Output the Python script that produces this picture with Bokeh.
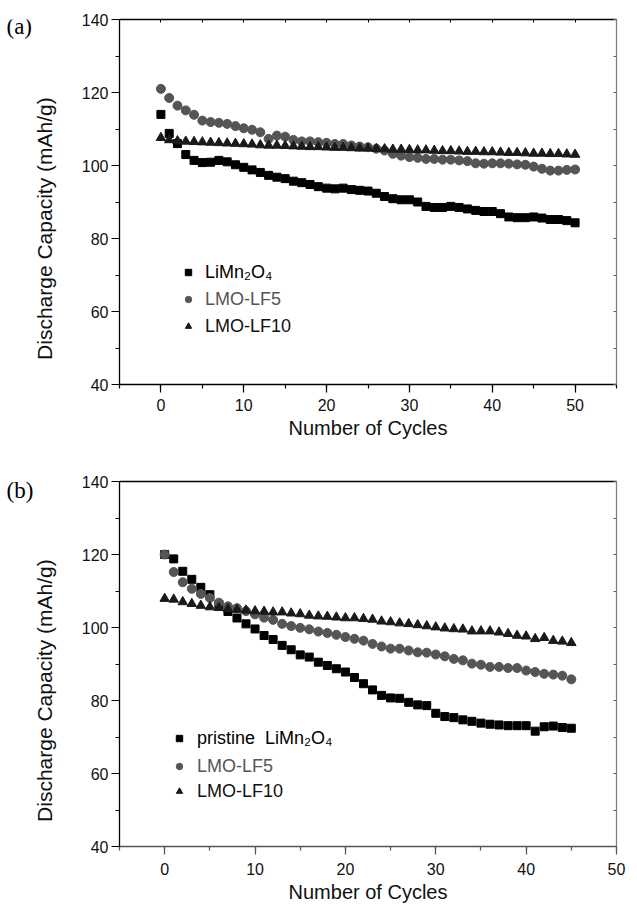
from bokeh.plotting import figure
from bokeh.layouts import column, row
from bokeh.models import (LinearAxis, SingleIntervalTicker, Range1d, Legend, LegendItem,
                          CustomLabelingPolicy)
from bokeh.core.properties import value
from bokeh.embed import file_html
from bokeh.resources import INLINE
import math

# ---------------- data (a) ----------------
cycles_a = list(range(51))
lmo_a = [114.0, 108.8, 106.0, 103.0, 101.4, 100.8, 100.9, 101.4, 101.0, 100.2,
         99.5, 98.8, 98.1, 97.3, 96.8, 96.4, 95.7, 95.3, 94.8, 94.2,
         93.8, 93.6, 93.8, 93.4, 93.2, 93.0, 92.4, 91.5, 90.9, 90.6,
         90.6, 90.0, 88.8, 88.5, 88.5, 88.8, 88.5, 88.1, 87.7, 87.4,
         87.4, 86.8, 85.9, 85.7, 85.7, 85.9, 85.6, 85.2, 85.2, 84.9, 84.3]
lf5_a = [121.0, 118.5, 116.4, 115.1, 113.9, 112.3, 111.9, 111.7, 111.4, 110.8,
         110.2, 109.8, 109.1, 107.3, 108.2, 107.9, 107.0, 106.6, 106.6, 106.4,
         106.2, 105.9, 105.9, 105.5, 105.2, 105.0, 104.6, 104.1, 103.2, 102.7,
         102.3, 102.1, 101.8, 101.8, 101.6, 101.6, 101.4, 101.2, 100.6, 100.5,
         100.6, 100.6, 100.5, 100.3, 100.2, 99.7, 99.1, 98.6, 98.6, 98.8, 98.9]
lf10_a = [107.6, 107.0, 106.7, 106.6, 106.5, 106.4, 106.3, 106.2, 106.1, 106.0,
          105.9, 105.8, 105.6, 105.5, 105.5, 105.4, 105.3, 105.2, 105.1, 105.1,
          105.0, 104.9, 104.9, 104.8, 104.7, 104.7, 104.6, 104.5, 104.4, 104.4,
          104.3, 104.2, 104.2, 104.1, 104.0, 104.0, 103.9, 103.8, 103.8, 103.7,
          103.7, 103.6, 103.5, 103.5, 103.4, 103.3, 103.3, 103.2, 103.2, 103.1, 103.0]

# ---------------- data (b) ----------------
cycles_b = list(range(46))
lmo_b = [120.0, 118.8, 115.4, 113.2, 111.0, 109.0, 106.3, 104.4, 102.6, 101.0,
         99.6, 97.8, 96.7, 95.1, 93.9, 92.5, 91.9, 90.5, 89.6, 88.7,
         87.8, 86.3, 84.6, 82.9, 81.4, 80.7, 80.6, 79.5, 78.8, 78.6,
         76.5, 75.6, 75.3, 74.7, 74.3, 73.8, 73.5, 73.3, 73.1, 73.1,
         73.1, 71.6, 72.8, 73.0, 72.6, 72.4]
lf5_b = [120.0, 115.2, 112.4, 110.6, 109.2, 108.1, 106.8, 105.8, 105.3, 104.5,
         103.6, 102.7, 102.1, 101.0, 100.4, 99.9, 99.5, 98.9, 98.5, 98.0,
         97.4, 96.9, 96.4, 95.5, 94.8, 94.2, 94.2, 93.7, 93.2, 93.1,
         92.6, 92.1, 91.4, 91.0, 90.1, 89.8, 89.2, 89.2, 88.9, 88.9,
         88.2, 87.8, 87.3, 87.1, 86.8, 85.8]
lf10_b = [107.9, 107.7, 107.0, 106.5, 106.0, 105.6, 105.4, 105.1, 104.9, 104.7,
          104.5, 104.4, 104.2, 104.2, 103.9, 103.7, 103.3, 103.1, 103.0, 102.8,
          102.6, 102.6, 102.4, 102.2, 101.7, 101.5, 101.2, 101.0, 100.7, 100.4,
          100.1, 99.8, 99.6, 99.5, 99.0, 99.0, 99.0, 98.7, 98.3, 97.8,
          97.6, 96.9, 97.2, 96.4, 96.2, 95.8]

labels_a = ["LiMn\u2082O\u2084", "LMO-LF5", "LMO-LF10"]
labels_b = ["pristine\u00a0 LiMn\u2082O\u2084", "LMO-LF5", "LMO-LF10"]
panel_tags = ["(a)", "(b)"]
x_title = "Number of Cycles"
y_title = "Discharge Capacity (mAh/g)"

FONT = "Liberation Sans"
SQ_COL = "#000000"
CI_COL = "#555555"
TR_COL = "#1a1a1a"
TXT_COLS = ["#000000", "#555555", "#111111"]
STRIP_W = 62

NO_LABELS = "for (const i of indices) { indices.unset(i) }\nreturn indices"


def make_panel(x, s1, s2, s3, xmax, height, bottom, right,
               top_ticks, bottom_axis_color, tick_standoff):
    p = figure(width=637 - STRIP_W, height=height, output_backend="svg",
               toolbar_location=None,
               x_range=Range1d(-5, xmax), y_range=Range1d(40, 140),
               min_border_left=119 - STRIP_W, min_border_right=right, min_border_top=19,
               min_border_bottom=bottom, background_fill_color="white",
               border_fill_color="white")
    p.outline_line_color = None
    p.grid.visible = False

    xa = p.xaxis[0]
    xa.ticker = SingleIntervalTicker(interval=10, num_minor_ticks=2)
    ya = p.yaxis[0]
    ya.ticker = SingleIntervalTicker(interval=20, num_minor_ticks=2)
    for ax in (xa, ya):
        ax.major_tick_out = 8
        ax.major_tick_in = 0
        ax.minor_tick_out = 4
        ax.minor_tick_in = 0
        ax.major_label_text_font = FONT
        ax.major_label_text_font_size = "16px"
        ax.major_label_text_color = "#111111"
        ax.axis_label_text_font = FONT
        ax.axis_label_text_font_size = "20px"
        ax.axis_label_text_font_style = "normal"
        ax.axis_label_text_color = "#111111"
        ax.axis_line_width = 1.3
        ax.major_tick_line_width = 1.2
        ax.minor_tick_line_width = 1.2
    xa.axis_line_color = bottom_axis_color
    xa.major_tick_line_color = bottom_axis_color
    xa.minor_tick_line_color = bottom_axis_color
    ya.axis_line_color = "#000000"
    xa.axis_label = x_title
    xa.major_label_standoff = tick_standoff
    xa.axis_label_standoff = 3
    ya.major_label_standoff = 3

    top = LinearAxis(ticker=SingleIntervalTicker(interval=5, num_minor_ticks=0),
                     major_label_policy=CustomLabelingPolicy(code=NO_LABELS),
                     major_tick_out=0,
                     major_tick_in=3 if top_ticks else 0, minor_tick_out=0, minor_tick_in=0,
                     axis_line_color="#000000", axis_line_width=1.3,
                     major_tick_line_color="#000000", major_label_standoff=0)
    p.add_layout(top, "above")
    rt = LinearAxis(ticker=SingleIntervalTicker(interval=10, num_minor_ticks=0),
                    major_label_policy=CustomLabelingPolicy(code=NO_LABELS),
                    major_tick_out=0, major_tick_in=3,
                    minor_tick_out=0, minor_tick_in=0, axis_line_color="#808080",
                    axis_line_width=1.3, major_tick_line_color="#606060",
                    major_label_standoff=0)
    p.add_layout(rt, "right")

    r1 = p.scatter(x, s1, marker="square", size=8, fill_color=SQ_COL, line_color=SQ_COL)
    r2 = p.scatter(x, s2, marker="circle", size=9, fill_color=CI_COL, line_color=CI_COL)
    r3 = p.scatter(x, s3, marker="triangle", size=9.5, fill_color=TR_COL, line_color=TR_COL)
    return p, [r1, r2, r3]


def add_legends(p, renderers, labels, x0, ys, standoff):
    for r, lab, yy, col in zip(renderers, labels, ys, TXT_COLS):
        lg = Legend(items=[LegendItem(label=lab, renderers=[r])], location=(x0, yy),
                    glyph_width=16, glyph_height=16, label_height=22,
                    label_standoff=standoff, padding=0, margin=0, spacing=0,
                    border_line_alpha=0, background_fill_alpha=0,
                    label_text_font=FONT, label_text_font_size="18px",
                    label_text_color=col)
        p.add_layout(lg, "center")


def make_strip(tag, height, bottom, tag_y, title_y):
    s = figure(width=STRIP_W, height=height, output_backend="svg", toolbar_location=None,
               x_range=Range1d(0, STRIP_W), y_range=Range1d(40, 140),
               min_border_left=0, min_border_right=0, min_border_top=19,
               min_border_bottom=bottom, background_fill_color="white",
               border_fill_color="white")
    s.outline_line_color = None
    s.grid.visible = False
    s.axis.visible = False
    s.text(x=[6], y=[tag_y], text=[tag], text_font=value("Liberation Serif"),
           text_font_size="23px", text_align="left", text_baseline="middle",
           text_color="#000000")
    s.text(x=[44], y=[title_y], text=[y_title], angle=math.pi / 2,
           text_font=value(FONT), text_font_size="21px", text_align="center",
           text_baseline="middle", text_color="#111111")
    return s


p1, rs1 = make_panel(cycles_a, lmo_a, lf5_a, lf10_a, 55, 462, 78, 18, True, "#000000", 6)
add_legends(p1, rs1, labels_a, 61, [101, 74, 47], 9)
s1 = make_strip(panel_tags[0], 462, 78, 138.0, 82.7)

p2, rs2 = make_panel(cycles_b, lmo_b, lf5_b, lf10_b, 50, 452, 68, 16, False, "#555555", 8)
add_legends(p2, rs2, labels_b, 52, [97, 69, 44], 10)
s2 = make_strip(panel_tags[1], 452, 68, 137.5, 82.7)

layout = column(row(s1, p1, spacing=0), row(s2, p2, spacing=0), spacing=0)
open("out.html", "w").write(file_html(layout, INLINE))
